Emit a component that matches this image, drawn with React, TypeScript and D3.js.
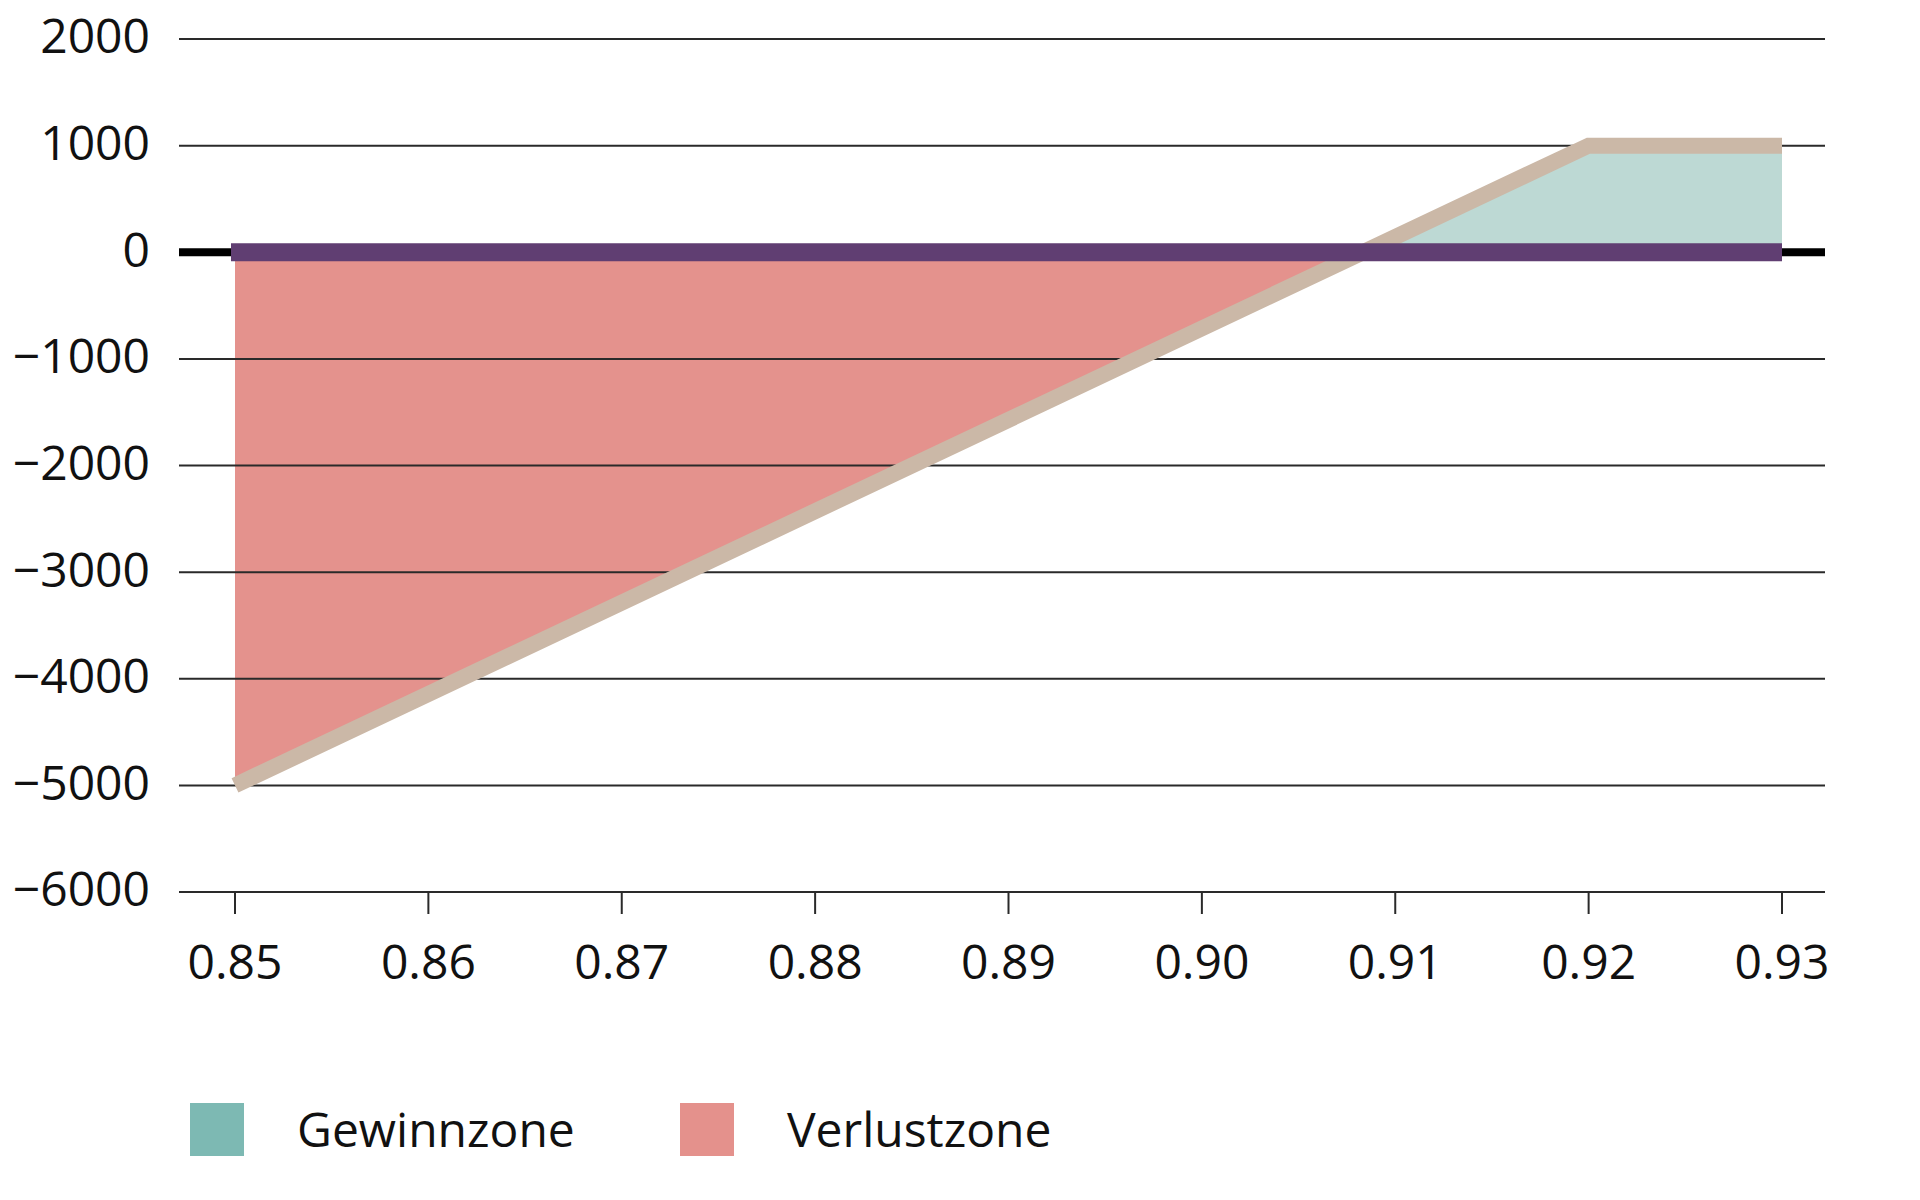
import React from "react";
import * as d3 from "d3";

const xTicks = [0.85, 0.86, 0.87, 0.88, 0.89, 0.9, 0.91, 0.92, 0.93];
const yTicks = [2000, 1000, 0, -1000, -2000, -3000, -4000, -5000, -6000];
const priceX = [0.85, 0.92, 0.93];
const profitY = [-5000, 1000, 1000];
const legendLabels = ["Gewinnzone", "Verlustzone"];
const legendColors = ["#7db9b3", "#e4918c"];

const W = 1920;
const H = 1200;

export default function App() {
  const x = d3.scaleLinear().domain([0.85, 0.93]).range([235, 1782]);
  const y = d3.scaleLinear().domain([-6000, 2000]).range([892, 39]);
  const gridX0 = 179;
  const gridX1 = 1825;

  const pts = priceX.map((p, i) => ({ p, v: profitY[i] }));
  // breakeven crossing between consecutive points
  let be = priceX[0];
  for (let i = 0; i < pts.length - 1; i++) {
    const a = pts[i], b = pts[i + 1];
    if (a.v < 0 && b.v >= 0) {
      be = a.p + ((0 - a.v) / (b.v - a.v)) * (b.p - a.p);
    }
  }
  const lossPts = [...pts.filter((d) => d.p < be), { p: be, v: 0 }];
  const gainPts = [{ p: be, v: 0 }, ...pts.filter((d) => d.p > be)];

  const area = d3
    .area<{ p: number; v: number }>()
    .x((d) => x(d.p))
    .y0(y(0))
    .y1((d) => y(d.v));
  const line = d3
    .line<{ p: number; v: number }>()
    .x((d) => x(d.p))
    .y((d) => y(d.v));

  const font = "'Open Sans', 'Noto Sans', sans-serif";

  return (
    <svg
      width={W}
      height={H}
      viewBox={`0 0 ${W} ${H}`}
      style={{ position: "absolute", left: 0, top: 0, background: "#fff" }}
    >
      <rect x={0} y={0} width={W} height={H} fill="#fff" />
      <path d={area(lossPts) || ""} fill="#e4928d" />
      <path d={area(gainPts) || ""} fill="#bdd9d4" />
      {yTicks
        .filter((t) => t !== 0)
        .map((t) => (
          <line
            key={t}
            x1={gridX0}
            x2={gridX1}
            y1={y(t)}
            y2={y(t)}
            stroke="#2a2a2a"
            strokeWidth={2}
          />
        ))}
      {xTicks.map((t) => (
        <line
          key={t}
          x1={x(t)}
          x2={x(t)}
          y1={y(-6000)}
          y2={y(-6000) + 22}
          stroke="#2a2a2a"
          strokeWidth={2}
        />
      ))}
      <path
        d={line(pts) || ""}
        fill="none"
        stroke="#cbb8a7"
        strokeWidth={16}
        strokeLinecap="butt"
        strokeLinejoin="miter"
      />
      <line x1={gridX0} x2={gridX1} y1={y(0)} y2={y(0)} stroke="#000" strokeWidth={8} />
      <line
        x1={x(0.85) - 4}
        x2={x(0.93)}
        y1={y(0)}
        y2={y(0)}
        stroke="#603e72"
        strokeWidth={18}
      />
      {yTicks.map((t) => (
        <text
          key={t}
          x={150}
          y={y(t)}
          dy="0.3em"
          textAnchor="end"
          fontFamily={font}
          fontSize={48}
          fill="#111"
        >
          {t < 0 ? "\u2212" + Math.abs(t) : String(t)}
        </text>
      ))}
      {xTicks.map((t) => (
        <text
          key={t}
          x={x(t)}
          y={979}
          textAnchor="middle"
          fontFamily={font}
          fontSize={48}
          fill="#111"
        >
          {t.toFixed(2)}
        </text>
      ))}
      {legendLabels.map((lab, i) => {
        const sx = i === 0 ? 190 : 680;
        return (
          <g key={lab}>
            <rect x={sx} y={1103} width={54} height={53} fill={legendColors[i]} />
            <text
              x={sx + 107}
              y={1130}
              dy="0.35em"
              fontFamily={font}
              fontSize={48}
              fill="#111"
            >
              {lab}
            </text>
          </g>
        );
      })}
    </svg>
  );
}
